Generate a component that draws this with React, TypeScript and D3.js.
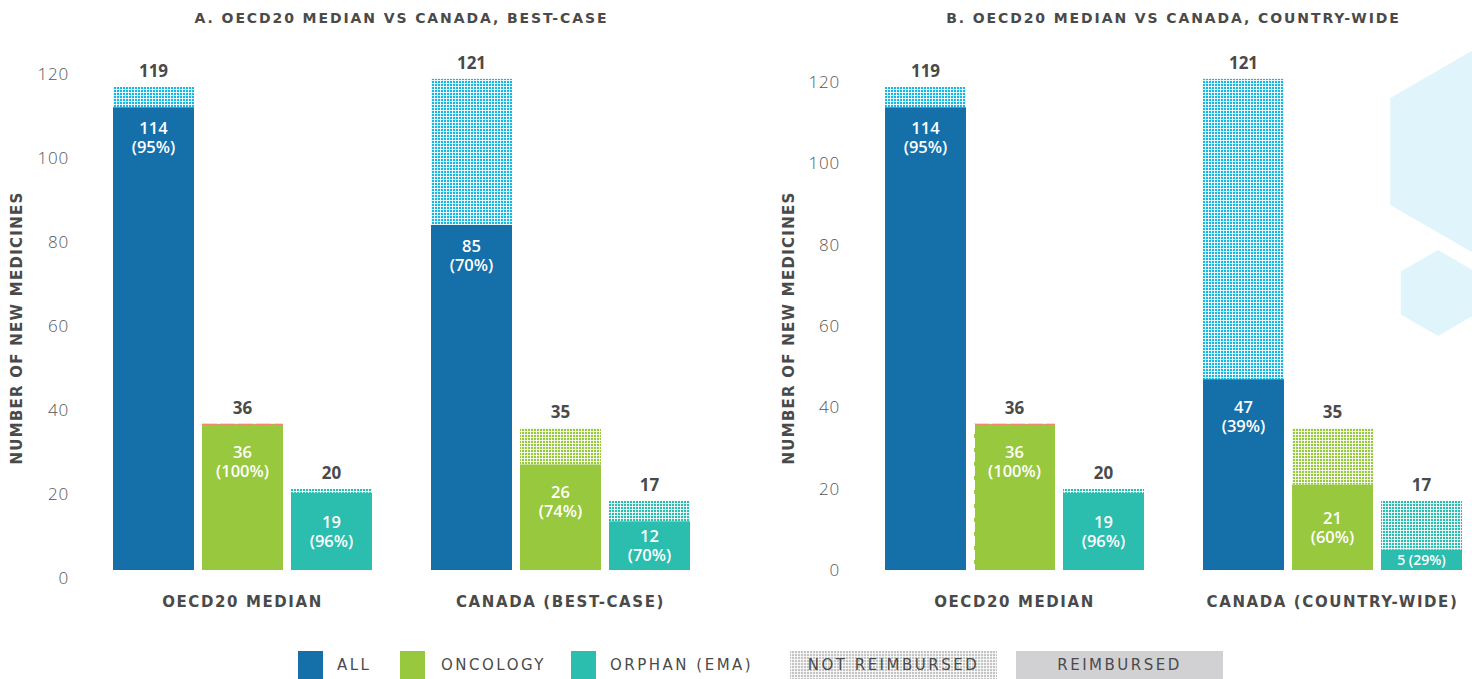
import React from "react";
import * as d3 from "d3";

const panelTitles = ["A. OECD20 MEDIAN VS CANADA, BEST-CASE", "B. OECD20 MEDIAN VS CANADA, COUNTRY-WIDE"];
const categoriesA = ["OECD20 MEDIAN", "CANADA (BEST-CASE)"];
const categoriesB = ["OECD20 MEDIAN", "CANADA (COUNTRY-WIDE)"];
const series = ["ALL", "ONCOLOGY", "ORPHAN (EMA)"];
const totalsA = [[119, 36, 20], [121, 35, 17]];
const reimbursedA = [[114, 36, 19], [85, 26, 12]];
const pctA = [[95, 100, 96], [70, 74, 70]];
const totalsB = [[119, 36, 20], [121, 35, 17]];
const reimbursedB = [[114, 36, 19], [47, 21, 5]];
const pctB = [[95, 100, 96], [39, 60, 29]];
const yTicks = [0, 20, 40, 60, 80, 100, 120];
const legendItems = ["ALL", "ONCOLOGY", "ORPHAN (EMA)"];
const legendBoxes = ["NOT REIMBURSED", "REIMBURSED"];

const solid = ["#1570aa", "#97c83d", "#2bbdae"];
const hatch = ["#17b6e3", "#97c83d", "#2bbdae"];
const FONT = "'Open Sans', 'Noto Sans', sans-serif";
const WIDE = "'DejaVu Sans', 'Open Sans', sans-serif";
const TXT = "#4a4a4a";

type PanelProps = {
  idx: number;
  title: string;
  categories: string[];
  totals: number[][];
  reimbursed: number[][];
  pct: number[][];
  xRange: [number, number];
  tickX: number;
  tickRange: [number, number];
  axisTitleX: number;
};

const baseY = 570;
const y = d3.scaleLinear().domain([0, 119]).range([baseY, 87]);

function Panel(p: PanelProps) {
  const x0 = d3.scaleBand<string>().domain(p.categories).range(p.xRange).paddingInner(59 / 318).paddingOuter(0);
  const x1 = d3.scaleBand<string>().domain(series).range([0, x0.bandwidth()]).paddingInner(8 / 89).paddingOuter(0);
  const yt = d3.scaleLinear().domain([0, 120]).range(p.tickRange);
  const cx = (p.xRange[0] + p.xRange[1]) / 2;
  return (
    <g>
      <text x={cx} y={18} dy="0.35em" textAnchor="middle" fontFamily={WIDE} fontWeight={700} fontSize={14} fill={TXT} letterSpacing={1.9}>
        {p.title}
      </text>
      {yTicks.map((t) => (
        <text key={t} x={p.tickX} y={yt(t)} dy="0.35em" textAnchor="end" fontFamily={FONT} fontWeight={300} fontSize={17} fill="#555" letterSpacing={0.8}>
          {t}
        </text>
      ))}
      <text
        transform={`translate(${p.axisTitleX},${328}) rotate(-90)`}
        textAnchor="middle"
        dy="0.35em"
        fontFamily={WIDE}
        fontWeight={700}
        fontSize={15}
        fill={TXT}
        letterSpacing={1.25}
      >
        NUMBER OF NEW MEDICINES
      </text>
      {p.categories.map((c, gi) => {
        const gx = x0(c)!;
        return (
          <g key={c}>
            {series.map((s, si) => {
              const bx = gx + x1(s)!;
              const bw = x1.bandwidth();
              const tot = p.totals[gi][si];
              const re = p.reimbursed[gi][si];
              const yTop = y(tot);
              const yRe = y(re);
              const segH = baseY - yRe;
              const small = segH < 30;
              const firstY = segH < 100 ? (yRe + baseY) / 2 - 9 : segH > 300 ? yRe + 21 : yRe + 28;
              const full = tot === re;
              return (
                <g key={s}>
                  {!full && (
                    <rect x={bx} y={yTop} width={bw} height={yRe - yTop} fill={`url(#hatch${si})`} />
                  )}
                  <rect x={bx} y={yRe} width={bw} height={segH} fill={solid[si]} />
                  {full && (
                    <line x1={bx} x2={bx + bw} y1={yTop + 0.5} y2={yTop + 0.5} stroke="#ee8a6a" strokeWidth={1.2} strokeDasharray="15 3" />
                  )}
                  {full && p.idx === 1 && (
                    <line x1={bx + 0.5} x2={bx + 0.5} y1={yTop} y2={baseY} stroke="#ffffff" strokeWidth={1} strokeDasharray="10 4" />
                  )}
                  <text x={bx + bw / 2} y={yTop - 16} dy="0.35em" textAnchor="middle" fontFamily={FONT} fontWeight={700} fontSize={17} fill={TXT}>
                    {tot}
                  </text>
                  {small ? (
                    <text x={bx + bw / 2} y={(yRe + baseY) / 2} dy="0.35em" textAnchor="middle" fontFamily={FONT} fontWeight={600} fontSize={14} fill="#fff">
                      {`${re} (${p.pct[gi][si]}%)`}
                    </text>
                  ) : (
                    <g>
                      <text x={bx + bw / 2} y={firstY} dy="0.35em" textAnchor="middle" fontFamily={FONT} fontWeight={600} fontSize={16.5} fill="#fff">
                        {re}
                      </text>
                      <text x={bx + bw / 2} y={firstY + 19} dy="0.35em" textAnchor="middle" fontFamily={FONT} fontWeight={600} fontSize={16.5} fill="#fff">
                        {`(${p.pct[gi][si]}%)`}
                      </text>
                    </g>
                  )}
                </g>
              );
            })}
            <text x={gx + x0.bandwidth() / 2} y={602} dy="0.35em" textAnchor="middle" fontFamily={WIDE} fontWeight={700} fontSize={15} fill={TXT} letterSpacing={1.6}>
              {c}
            </text>
          </g>
        );
      })}
    </g>
  );
}

function hexPath(cx: number, cy: number, r: number) {
  const pts = d3.range(6).map((i) => {
    const a = (Math.PI / 3) * i - Math.PI / 2;
    return [cx + r * Math.cos(a), cy + r * Math.sin(a)];
  });
  return "M" + pts.map((q) => q.join(",")).join("L") + "Z";
}

export default function App() {
  const legendX = [298, 400, 571];
  const legendTextX = [337, 441, 610];
  const boxX = [790, 1016];
  return (
    <svg width={1472} height={679} style={{ position: "absolute", left: 0, top: 0, background: "#fff" }}>
      <defs>
        {hatch.map((c, i) => (
          <pattern key={i} id={`hatch${i}`} width={3} height={3} patternUnits="userSpaceOnUse">
            <rect width={3} height={3} fill={c} />
            <rect x={2} width={1} height={3} fill="#fff" opacity={0.85} />
            <rect y={2} width={3} height={1} fill="#fff" opacity={0.85} />
          </pattern>
        ))}
        <pattern id="hatchGray" width={3} height={3} patternUnits="userSpaceOnUse">
          <rect width={3} height={3} fill="#c4c4c4" />
          <rect x={2} width={1} height={3} fill="#fff" opacity={0.8} />
          <rect y={2} width={3} height={1} fill="#fff" opacity={0.8} />
        </pattern>
      </defs>
      <path d={hexPath(1483, 151.5, 107)} fill="#e0f5fb" />
      <path d={hexPath(1438, 293, 43)} fill="#e0f5fb" />
      <Panel
        idx={0}
        title={panelTitles[0]}
        categories={categoriesA}
        totals={totalsA}
        reimbursed={reimbursedA}
        pct={pctA}
        xRange={[113, 690]}
        tickX={69}
        tickRange={[578, 74]}
        axisTitleX={17}
      />
      <Panel
        idx={1}
        title={panelTitles[1]}
        categories={categoriesB}
        totals={totalsB}
        reimbursed={reimbursedB}
        pct={pctB}
        xRange={[885, 1462]}
        tickX={840}
        tickRange={[570, 82]}
        axisTitleX={789}
      />
      {legendItems.map((l, i) => (
        <g key={l}>
          <rect x={legendX[i]} y={651} width={25} height={28} fill={solid[i]} />
          <text x={legendTextX[i]} y={665} dy="0.35em" fontFamily={WIDE} fontWeight={400} fontSize={15} fill={TXT} letterSpacing={2.5}>
            {l}
          </text>
        </g>
      ))}
      {legendBoxes.map((l, i) => (
        <g key={l}>
          <rect x={boxX[i]} y={651} width={207} height={28} fill={i === 0 ? "url(#hatchGray)" : "#d1d1d3"} />
          <text x={boxX[i] + 103.5} y={665} dy="0.35em" textAnchor="middle" fontFamily={WIDE} fontWeight={400} fontSize={15} fill={TXT} letterSpacing={2.5}>
            {l}
          </text>
        </g>
      ))}
    </svg>
  );
}
